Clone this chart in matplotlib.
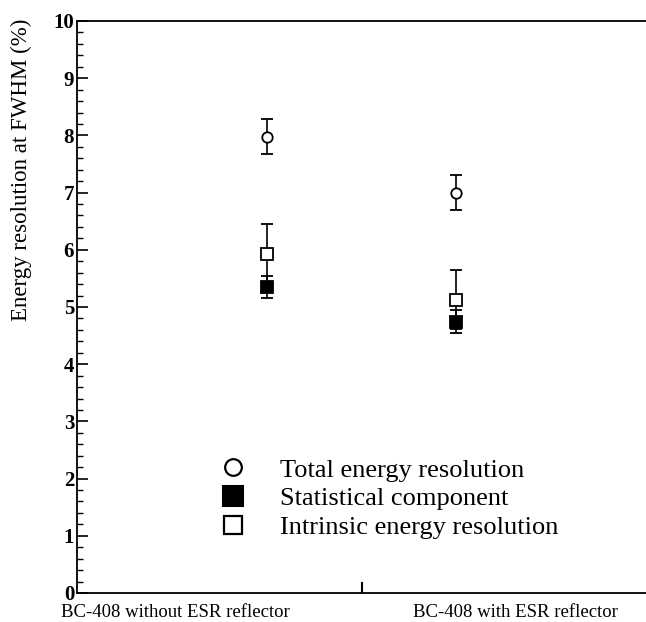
import matplotlib
matplotlib.use("Agg")
import matplotlib.pyplot as plt
from matplotlib.lines import Line2D
from matplotlib.ticker import MultipleLocator

categories = ["BC-408 without ESR reflector", "BC-408 with ESR reflector"]
total_res = [7.98, 7.00]
total_err = [0.30, 0.30]
intrinsic_res = [5.93, 5.13]
intrinsic_err = [0.52, 0.52]
stat_res = [5.35, 4.74]
stat_err = [0.20, 0.20]
legend_labels = ["Total energy resolution", "Statistical component", "Intrinsic energy resolution"]

plt.rcParams['font.family'] = ['Liberation Serif', 'DejaVu Serif']

fig = plt.figure(figsize=(6.46, 6.22), dpi=100)
ax = fig.add_axes([77/646, 1-593/622, 1-77/646, (593-21)/622])

xpos = [1, 2]
ekw = dict(ecolor='black', elinewidth=1.2, capsize=4, capthick=1.3, linestyle='none')
ax.errorbar(xpos, intrinsic_res, yerr=intrinsic_err, marker='s', ms=8, mfc='white',
            mec='black', mew=1.3, zorder=3, **ekw)
ax.errorbar(xpos, stat_res, yerr=stat_err, marker='s', ms=8, mfc='black',
            mec='black', mew=1.3, zorder=4, **ekw)
ax.errorbar(xpos, total_res, yerr=total_err, marker='o', ms=7.5, mfc='white',
            mec='black', mew=1.3, zorder=3, **ekw)

ax.set_xlim(0, 3)
ax.set_ylim(0, 10)
ax.set_xticks([1.5])
ax.set_xticklabels([])
ax.tick_params(axis='x', direction='in', length=8, width=1.5)
ax.yaxis.set_major_locator(MultipleLocator(1))
ax.yaxis.set_minor_locator(MultipleLocator(0.2))
ax.tick_params(axis='y', which='major', direction='in', length=8, width=1.2, labelsize=15, pad=2)
ax.tick_params(axis='y', which='minor', direction='in', length=4, width=1.0)
for lab in ax.get_yticklabels():
    lab.set_fontweight('bold')
ax.spines['right'].set_visible(False)
for s in ['left', 'bottom', 'top']:
    ax.spines[s].set_linewidth(1.3)

ax.set_ylabel("Energy resolution at FWHM (%)", fontsize=16.5)
ax.yaxis.set_label_coords(-0.079, 0.74)

label_x = [0.52, 2.31]
for lx, name in zip(label_x, categories):
    ax.text(lx, -0.2, name, ha='center', va='top', fontsize=13.5)

handles = [
    Line2D([], [], marker='o', ls='none', ms=12, mfc='white', mec='black', mew=1.6),
    Line2D([], [], marker='s', ls='none', ms=14, mfc='black', mec='black', mew=1.5),
    Line2D([], [], marker='s', ls='none', ms=13, mfc='white', mec='black', mew=1.6),
]
ax.legend(handles, legend_labels, loc='upper left', bbox_to_anchor=(0.227, 0.259),
          frameon=False, fontsize=19, handlelength=1.0, handletextpad=1.3,
          labelspacing=0.2, borderpad=0)

fig.savefig("out.png", dpi=100)
